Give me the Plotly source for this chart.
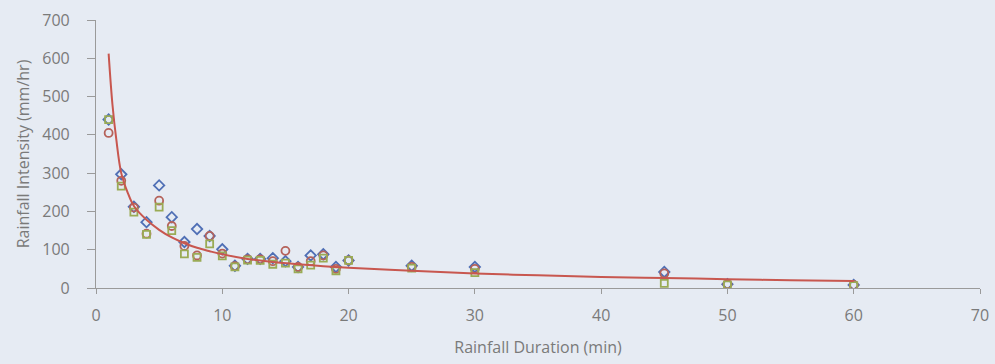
import plotly.graph_objects as go

durations = [1, 2, 3, 4, 5, 6, 7, 8, 9, 10, 11, 12, 13, 14, 15, 16, 17, 18, 19, 20, 25, 30, 45, 50, 60]
series_a = [440, 297, 212, 172, 268, 185, 120, 154, 136, 101, 58, 76, 76, 78, 70, 55, 85, 88, 55, 72, 58, 55, 42, 10, 8]
series_b = [405, 280, 210, 142, 228, 162, 110, 85, 136, 90, 57, 75, 75, 70, 97, 55, 70, 85, 50, 72, 55, 50, 38, 10, 8]
series_c = [440, 266, 198, 140, 211, 150, 89, 80, 115, 84, 55, 73, 72, 62, 65, 50, 60, 78, 45, 72, 52, 40, 12, 8, 6]

trend_x = [1, 1.3, 1.6, 2, 2.5, 3, 4, 5, 6, 7, 8, 9, 10, 12, 14, 16, 18, 20, 25, 30, 35, 40, 45, 50, 55, 60]
trend_y = [612, 480, 390, 300, 250, 214, 178, 152, 132, 117, 105, 96, 88, 76, 68, 62, 57, 53, 45, 38, 33, 29, 26, 23, 20, 18]

x_ticks = [0, 10, 20, 30, 40, 50, 60, 70]
y_ticks = [0, 100, 200, 300, 400, 500, 600, 700]

fig = go.Figure()
fig.add_trace(go.Scatter(x=durations, y=series_a, mode="markers",
                         marker=dict(symbol="diamond-open", size=8, color="#4f6fb5", line=dict(width=1.8))))
fig.add_trace(go.Scatter(x=durations, y=series_b, mode="markers",
                         marker=dict(symbol="circle-open", size=8, color="#b5625a", line=dict(width=1.8))))
fig.add_trace(go.Scatter(x=durations, y=series_c, mode="markers",
                         marker=dict(symbol="square-open", size=7, color="#9aab55", line=dict(width=1.8))))
fig.add_trace(go.Scatter(x=trend_x, y=trend_y, mode="lines", line_shape="spline",
                         line=dict(color="#c8574f", width=2)))

tick_font = dict(family="Open Sans, sans-serif", size=16, color="#7a7a7a")
title_font = dict(family="Open Sans, sans-serif", size=16, color="#7a7a7a")
fig.update_layout(
    width=995, height=364,
    margin=dict(l=96, r=15, t=20, b=76),
    paper_bgcolor="#e6ebf3",
    plot_bgcolor="rgba(0,0,0,0)",
    showlegend=False,
    font=tick_font,
    xaxis=dict(range=[0, 70], tickvals=x_ticks, showgrid=False, zeroline=False,
               showline=True, linecolor="#9a9a9a", linewidth=1.2,
               ticks="outside", ticklen=5, tickcolor="#9a9a9a",
               tickfont=tick_font, ticklabelstandoff=8, automargin=False,
               title=dict(text="Rainfall Duration (min)", font=title_font, standoff=16)),
    yaxis=dict(range=[0, 700], tickvals=y_ticks, showgrid=False, zeroline=False,
               showline=True, linecolor="#9a9a9a", linewidth=1.2,
               ticks="outside", ticklen=8, tickcolor="#9a9a9a",
               tickfont=tick_font, ticklabelstandoff=14, automargin=False,
               title=dict(text="Rainfall Intensity (mm/hr)", font=title_font, standoff=8)),
)

fig.write_html("out.html")
